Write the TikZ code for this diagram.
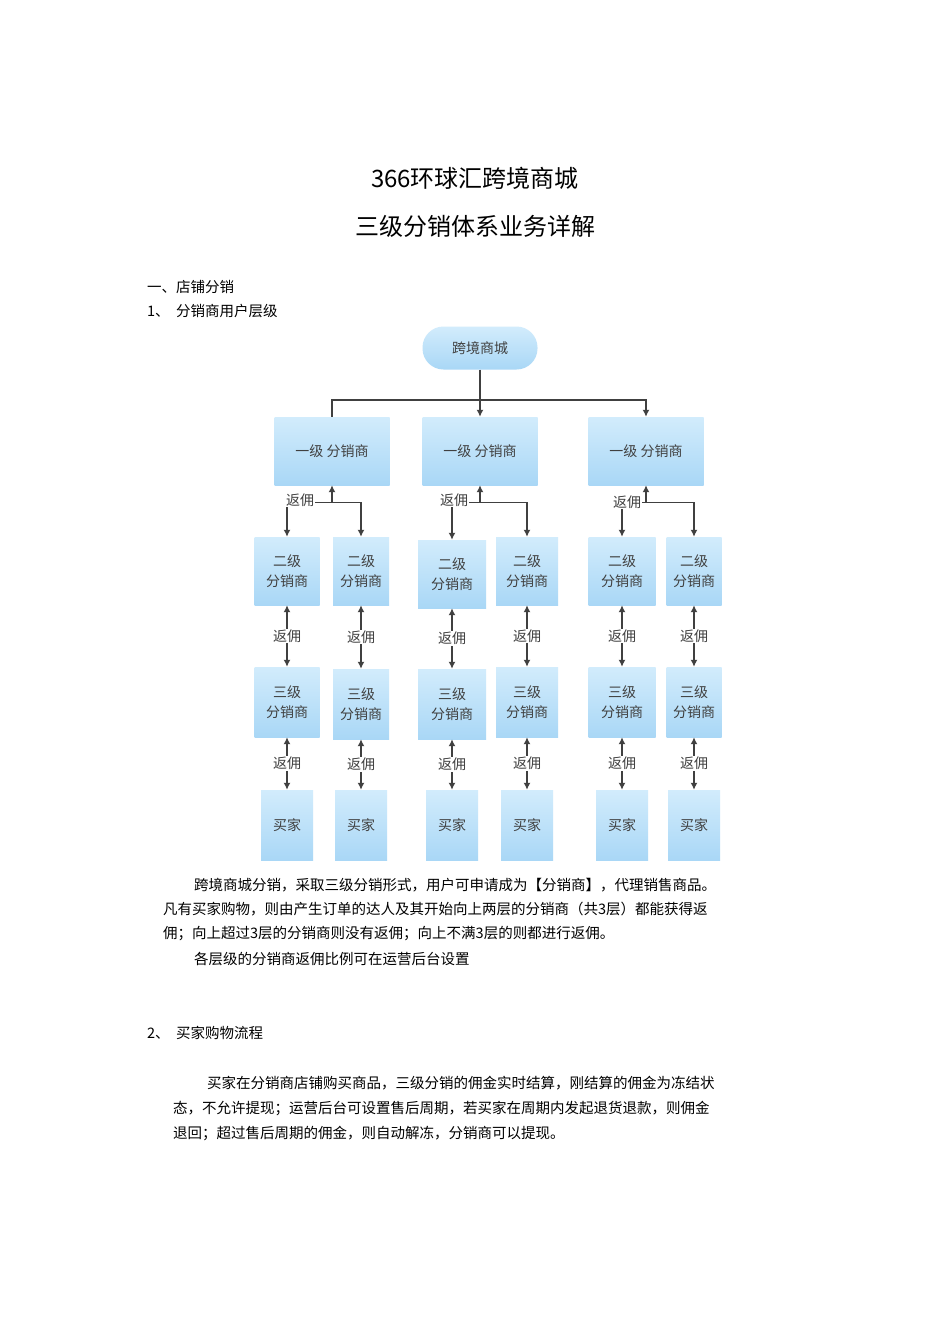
\documentclass[tikz,border=0pt]{standalone}
\usepackage{fontspec}
\setmainfont{Noto Sans CJK SC}
\usetikzlibrary{calc,arrows.meta}
\definecolor{bxtop}{HTML}{D2ECFC}
\definecolor{bxbot}{HTML}{A9D7F6}
\begin{document}
\begin{tikzpicture}[x=1pt,y=-1pt,
  bx/.style={draw=none,top color=bxtop,bottom color=bxbot,text=black!75,inner sep=0,align=center,font=\fontsize{14}{20}\selectfont},
  ar/.style={draw=black!75,line width=1.4pt,-{Latex[length=7pt,width=7pt]}},
  dar/.style={draw=black!75,line width=1.4pt,{Latex[length=7pt,width=7pt]}-{Latex[length=7pt,width=7pt]}},
  ln/.style={draw=black!75,line width=1.4pt},
  lb/.style={fill=white,inner sep=1pt,text=black!75,font=\fontsize{14}{16}\selectfont},
  tx/.style={anchor=west,inner sep=0,font=\fontsize{14.5}{18}\selectfont}]
\useasboundingbox (0,0) rectangle (950,1344);
\fill[white] (0,0) rectangle (950,1344);
\node (t1) at (475,178) {\fontsize{24}{28}\selectfont 366环球汇跨境商城};
\node (t2) at (475,226) {\fontsize{24}{28}\selectfont 三级分销体系业务详解};
\node[tx] (h1) at (147,287) {一、店铺分销};
\node[tx] (h2) at (147,311) {1、\ \ 分销商用户层级};
% root
\node[bx,rounded corners=21pt,minimum width=115,minimum height=43] (root) at (480,348) {跨境商城};
% level1
\foreach \n/\x in {a/332,b/480,c/646}
  \node[bx,minimum width=115,minimum height=68] (L1\n) at (\x,451) {一级 分销商};
% level2
\foreach \n/\x/\w/\y in {a1/287/65/571,a2/361/56/571,b1/452/68/574,b2/527/62/571,c1/622/67/571,c2/694/55/571}
  \node[bx,minimum width=\w,minimum height=68] (L2\n) at (\x,\y) {二级\\分销商};
\foreach \n/\x/\w/\y in {a1/287/65/702,a2/361/56/704,b1/452/68/704,b2/527/62/702,c1/622/67/702,c2/694/55/702}
  \node[bx,minimum width=\w,minimum height=70] (L3\n) at (\x,\y) {三级\\分销商};
\foreach \n/\x in {a1/287,a2/361,b1/452,b2/527,c1/622,c2/694}
  \node[bx,minimum width=52,minimum height=70] (B\n) at (\x,825) {买家};
% root connectors
\coordinate (j) at (480,400);
\draw[ln] (root.south) -- (j);
\draw[ln] (L1a.north) |- (j);
\draw[ar] (j) -- (L1b.north);
\draw[ar] (j) -| (L1c.north);
% level1 -> level2
\foreach \g in {a,b,c}{
  \coordinate (k\g) at ($(L1\g.south)+(0,17)$);
}
\draw[ar] (ka) -- (L1a.south); \draw[ar] (kb) -- (L1b.south); \draw[ar] (kc) -- (L1c.south);
\draw[ar] (L2a1.north|-ka) -- (L2a1.north); \draw[ar] (ka) -| (L2a2.north);
\draw[ln] (ka) -- (L2a1.north|-ka);
\draw[ar] (L2b1.north|-kb) -- (L2b1.north); \draw[ar] (kb) -| (L2b2.north);
\draw[ln] (kb) -- (L2b1.north|-kb);
\draw[ar] (L2c1.north|-kc) -- (L2c1.north); \draw[ar] (kc) -| (L2c2.north);
\draw[ln] (kc) -- (L2c1.north|-kc);
\node[lb] (fa) at (300,500) {返佣};
\node[lb] (fb) at (454,500) {返佣};
\node[lb] (fc) at (627,502) {返佣};
% vertical double arrows
\foreach \n in {a1,a2,b1,b2,c1,c2}{
  \draw[dar] (L2\n.south) -- (L3\n.north) node[lb,midway] {返佣};
  \draw[dar] (L3\n.south) -- (B\n.north) node[lb,midway] {返佣};
}
% text
\node[tx] (p1) at (194,885) {跨境商城分销，采取三级分销形式，用户可申请成为【分销商】，代理销售商品。};
\node[tx] (p2) at (163,909) {凡有买家购物，则由产生订单的达人及其开始向上两层的分销商（共3层）都能获得返};
\node[tx] (p3) at (163,934) {佣；向上超过3层的分销商则没有返佣；向上不满3层的则都进行返佣。};
\node[tx] (p4) at (194,959) {各层级的分销商返佣比例可在运营后台设置};
\node[tx] (h3) at (147,1033) {2、\ \ 买家购物流程};
\node[tx] (q1) at (207,1083) {买家在分销商店铺购买商品，三级分销的佣金实时结算，刚结算的佣金为冻结状};
\node[tx] (q2) at (173,1108) {态，不允许提现；运营后台可设置售后周期，若买家在周期内发起退货退款，则佣金};
\node[tx] (q3) at (173,1133) {退回；超过售后周期的佣金，则自动解冻，分销商可以提现。};
\end{tikzpicture}
\end{document}
